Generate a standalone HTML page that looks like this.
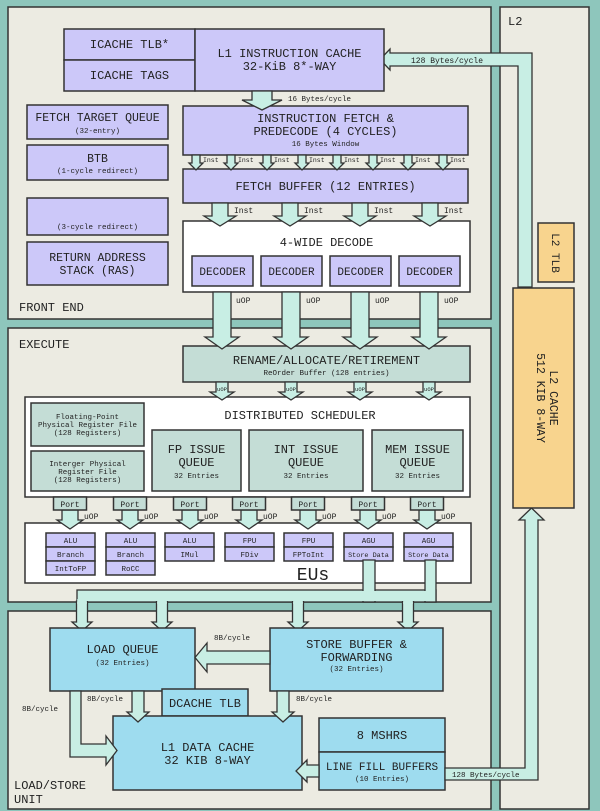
<!DOCTYPE html>
<html><head><meta charset="utf-8"><style>
html,body{margin:0;padding:0;background:#8ec6bc;}
svg{display:block;}
text{font-family:"Liberation Mono",monospace;fill:#222;}
.b{stroke:#333;stroke-width:1.5;}
.lav{fill:#ccc8f9;}
.tg{fill:#c4ddd6;}
.bl{fill:#9edcef;}
.or{fill:#f8d48e;}
.pn{fill:#ecebe2;}
.wh{fill:#fff;}
.ar{fill:#c8eee4;stroke:#333;stroke-width:1.3;}
.cv{fill:#c8eee4;}
</style></head><body>
<svg id="s" width="600" height="811" viewBox="0 0 600 811" xmlns="http://www.w3.org/2000/svg">
<rect x="0" y="0" width="600" height="811" fill="#8ec6bc"/>
<!-- panels -->
<rect class="pn b" x="8" y="7" width="483" height="312"/>
<rect class="pn b" x="8" y="328" width="483" height="274"/>
<rect class="pn b" x="8" y="611" width="483" height="198"/>
<rect class="pn b" x="500" y="7" width="89" height="802"/>
<text x="508" y="25" font-size="12">L2</text>
<text x="19" y="311" font-size="12">FRONT END</text>
<text x="19" y="348" font-size="12">EXECUTE</text>
<text x="14" y="789" font-size="12">LOAD/STORE</text>
<text x="14" y="803" font-size="12">UNIT</text>

<!-- L2 -> IC arrow -->
<g id="l2ic">
<polygon class="ar" points="532,287 518,287 518,66 390,66 390,70 380,59.5 390,49 390,53 532,53"/>
</g>
<text x="411" y="63" font-size="8">128 Bytes/cycle</text>

<!-- front end boxes -->
<rect class="lav b" x="64" y="29" width="131" height="31"/>
<rect class="lav b" x="64" y="60" width="131" height="31"/>
<rect class="lav b" x="195" y="29" width="189" height="62"/>
<text x="129.5" y="48" font-size="12" text-anchor="middle">ICACHE TLB*</text>
<text x="129.5" y="79" font-size="12" text-anchor="middle">ICACHE TAGS</text>
<text x="289.5" y="57" font-size="12" text-anchor="middle">L1 INSTRUCTION CACHE</text>
<text x="289.5" y="70" font-size="12" text-anchor="middle">32-KiB 8*-WAY</text>

<rect class="lav b" x="27" y="105" width="141" height="34"/>
<text x="97.5" y="121" font-size="11.5" text-anchor="middle">FETCH TARGET QUEUE</text>
<text x="97.5" y="133" font-size="7.5" text-anchor="middle">(32-entry)</text>
<rect class="lav b" x="27" y="145" width="141" height="35"/>
<text x="97.5" y="162" font-size="11.5" text-anchor="middle">BTB</text>
<text x="97.5" y="173" font-size="7.5" text-anchor="middle">(1-cycle redirect)</text>
<rect class="lav b" x="27" y="198" width="141" height="37"/>
<text x="97.5" y="229" font-size="7.5" text-anchor="middle">(3-cycle redirect)</text>
<rect class="lav b" x="27" y="242" width="141" height="43"/>
<text x="97.5" y="261" font-size="11.5" text-anchor="middle">RETURN ADDRESS</text>
<text x="97.5" y="274" font-size="11.5" text-anchor="middle">STACK (RAS)</text>

<rect class="lav b" x="183" y="106" width="285" height="49"/>
<text x="325.5" y="122" font-size="12" text-anchor="middle">INSTRUCTION FETCH &amp;</text>
<text x="325.5" y="135" font-size="12" text-anchor="middle">PREDECODE (4 CYCLES)</text>
<text x="325.5" y="146" font-size="7.5" text-anchor="middle">16 Bytes Window</text>
<text x="288" y="101" font-size="7.5">16 Bytes/cycle</text>

<rect class="lav b" x="183" y="169" width="285" height="34"/>
<text x="325.5" y="190" font-size="12" text-anchor="middle">FETCH BUFFER (12 ENTRIES)</text>

<rect class="wh b" x="183" y="221" width="287" height="71"/>
<text x="326.5" y="246" font-size="12" text-anchor="middle">4-WIDE DECODE</text>
<rect class="lav b" x="192" y="256" width="61" height="30"/>
<rect class="lav b" x="261" y="256" width="61" height="30"/>
<rect class="lav b" x="330" y="256" width="61" height="30"/>
<rect class="lav b" x="399" y="256" width="61" height="30"/>
<text x="222.5" y="275" font-size="11" text-anchor="middle">DECODER</text>
<text x="291.5" y="275" font-size="11" text-anchor="middle">DECODER</text>
<text x="360.5" y="275" font-size="11" text-anchor="middle">DECODER</text>
<text x="429.5" y="275" font-size="11" text-anchor="middle">DECODER</text>

<!-- execute -->
<rect class="tg b" x="183" y="346" width="287" height="36"/>
<text x="326.5" y="364" font-size="12" text-anchor="middle">RENAME/ALLOCATE/RETIREMENT</text>
<text x="326.5" y="375" font-size="7.5" text-anchor="middle">ReOrder Buffer (128 entries)</text>

<rect class="wh b" x="25" y="397" width="445" height="100"/>
<text x="300" y="419" font-size="12" text-anchor="middle">DISTRIBUTED SCHEDULER</text>
<rect class="tg b" x="31" y="403" width="113" height="43"/>
<text x="87.5" y="419" font-size="7.5" text-anchor="middle">Floating-Point</text>
<text x="87.5" y="427" font-size="7.5" text-anchor="middle">Physical Register File</text>
<text x="87.5" y="435" font-size="7.5" text-anchor="middle">(128 Registers)</text>
<rect class="tg b" x="31" y="451" width="113" height="40"/>
<text x="87.5" y="466" font-size="7.5" text-anchor="middle">Interger Physical</text>
<text x="87.5" y="474" font-size="7.5" text-anchor="middle">Register File</text>
<text x="87.5" y="482" font-size="7.5" text-anchor="middle">(128 Registers)</text>
<rect class="tg b" x="152" y="430" width="89" height="61"/>
<rect class="tg b" x="249" y="430" width="114" height="61"/>
<rect class="tg b" x="372" y="430" width="91" height="61"/>
<text x="196.5" y="453" font-size="12" text-anchor="middle">FP ISSUE</text>
<text x="196.5" y="466" font-size="12" text-anchor="middle">QUEUE</text>
<text x="196.5" y="478" font-size="7.5" text-anchor="middle">32 Entries</text>
<text x="306" y="453" font-size="12" text-anchor="middle">INT ISSUE</text>
<text x="306" y="466" font-size="12" text-anchor="middle">QUEUE</text>
<text x="306" y="478" font-size="7.5" text-anchor="middle">32 Entries</text>
<text x="417.5" y="453" font-size="12" text-anchor="middle">MEM ISSUE</text>
<text x="417.5" y="466" font-size="12" text-anchor="middle">QUEUE</text>
<text x="417.5" y="478" font-size="7.5" text-anchor="middle">32 Entries</text>

<rect class="wh b" x="25" y="523" width="446" height="60"/>
<text x="313" y="580" font-size="18" text-anchor="middle" font-family="Liberation Sans">EUs</text>

<g id="eus"></g>

<!-- LSU arrow tree -->
<g id="tree"></g>

<!-- LSU -->
<rect class="bl b" x="50" y="628" width="145" height="63"/>
<text x="122.5" y="653" font-size="12" text-anchor="middle">LOAD QUEUE</text>
<text x="122.5" y="665" font-size="7.5" text-anchor="middle">(32 Entries)</text>
<rect class="bl b" x="270" y="628" width="173" height="63"/>
<text x="356.5" y="648" font-size="12" text-anchor="middle">STORE BUFFER &amp;</text>
<text x="356.5" y="661" font-size="12" text-anchor="middle">FORWARDING</text>
<text x="356.5" y="671" font-size="7.5" text-anchor="middle">(32 Entries)</text>
<polygon class="ar" points="270,651 207,651 207,643 195,657.5 207,672 207,664 270,664"/>
<text x="214" y="640" font-size="7.5">8B/cycle</text>

<rect class="bl b" x="162" y="689" width="86" height="27"/>
<text x="205" y="707" font-size="12" text-anchor="middle">DCACHE TLB</text>
<rect class="bl b" x="113" y="716" width="189" height="74"/>
<text x="207.5" y="751" font-size="12" text-anchor="middle">L1 DATA CACHE</text>
<text x="207.5" y="764" font-size="12" text-anchor="middle">32 KIB 8-WAY</text>
<rect class="bl b" x="319" y="718" width="126" height="34"/>
<text x="382" y="739" font-size="12" text-anchor="middle">8 MSHRS</text>
<rect class="bl b" x="319" y="752" width="126" height="38"/>
<text x="382" y="770" font-size="11" text-anchor="middle">LINE FILL BUFFERS</text>
<text x="382" y="781" font-size="7.5" text-anchor="middle">(10 Entries)</text>

<polygon class="ar" points="319,765 307,765 307,760 296,771 307,782 307,777 319,777"/>
<polygon class="ar" points="70,691 81,691 81,744 106,744 106,736 117,750.5 106,765 106,757 70,757"/>
<text x="87" y="701" font-size="7.5">8B/cycle</text>
<text x="296" y="701" font-size="7.5">8B/cycle</text>
<text x="22" y="711" font-size="7.5">8B/cycle</text>

<!-- LFB -> L2 -->
<polygon class="ar" points="445,768 525,768 525,520 519,520 531.5,508 544,520 538,520 538,780 445,780"/>
<text x="452" y="777" font-size="7.5">128 Bytes/cycle</text>

<!-- L2 boxes -->
<rect class="or b" x="538" y="223" width="36" height="59"/>
<text transform="translate(552,253) rotate(90)" font-size="11" text-anchor="middle">L2 TLB</text>
<rect class="or b" x="513" y="288" width="61" height="220"/>
<text transform="translate(550,398) rotate(90)" font-size="11.5" text-anchor="middle">L2 CACHE</text>
<text transform="translate(537,398) rotate(90)" font-size="11.5" text-anchor="middle">512 KIB 8-WAY</text>

<g id="arrows"></g>
<g id="labels"></g>
</svg>
<script>
var NS="http://www.w3.org/2000/svg";
function el(p,tag,a,txt){var e=document.createElementNS(NS,tag);for(var k in a)e.setAttribute(k,a[k]);if(txt)e.textContent=txt;document.getElementById(p).appendChild(e);return e;}
function da(p,cx,y0,yt,s,h,hh){var yb=yt-hh;el(p,"polygon",{"class":"ar",points:[cx-s,y0,cx+s,y0,cx+s,yb,cx+h,yb,cx,yt,cx-h,yb,cx-s,yb].join(" ")});}
var A="arrows";
da(A,262,91,110,10,20,10);
[196,231,267,302,337,373,408,443].forEach(function(c){da(A,c,155,170,4,7,7);});
[220,290,360,430].forEach(function(c){da(A,c,203,226,8,16,10);});
[222,291,360,429].forEach(function(c){da(A,c,292,349,9,17,12);});
[222,291,360,429].forEach(function(c){da(A,c,382,400,6,12,8);});
[70,130,190,249,308,368,427].forEach(function(c){da(A,c,510,529,8,13,9);
 el(A,"rect",{"class":"tg b",x:c-16.5,y:497,width:33,height:13});});
da(A,138,691,722,6,11,10);
da(A,283,691,722,6,11,10);
</script>
<script>
// labels (kept as JS-free text? we add after arrows for z-order)
</script>
<script>
var L=document.getElementById("labels");
function tx(x,y,fs,t,anc){var e=document.createElementNS(NS,"text");e.setAttribute("x",x);e.setAttribute("y",y);e.setAttribute("font-size",fs);if(anc)e.setAttribute("text-anchor",anc);e.textContent=t;L.appendChild(e);}
</script>
<svg width="0" height="0"></svg>
<script>
// EU boxes
var E="eus";
var eus=[[46,["ALU","Branch","IntToFP"]],[106,["ALU","Branch","RoCC"]],[165,["ALU","IMul"]],[225,["FPU","FDiv"]],[284,["FPU","FPToInt"]],[344,["AGU","Store Data"]],[404,["AGU","Store Data"]]];
// tree first
var T="tree";
el(T,"rect",{"class":"ar",x:77,y:590,width:359,height:12});
el(T,"rect",{"class":"ar",x:363,y:560,width:12,height:42});
el(T,"rect",{"class":"ar",x:425,y:560,width:11,height:42});
[82,162,298,408].forEach(function(c){da(T,c,601,631,5.5,10,9);});
el(T,"rect",{"class":"cv",x:78,y:591,width:357,height:10});
el(T,"rect",{"class":"cv",x:364,y:561,width:10,height:40});
el(T,"rect",{"class":"cv",x:426,y:561,width:9,height:40});
[82,162,298,408].forEach(function(c){el(T,"rect",{"class":"cv",x:c-4.8,y:599,width:9.6,height:5});});
</script>
<svg style="position:absolute;left:0;top:0" width="600" height="811" viewBox="0 0 600 811" xmlns="http://www.w3.org/2000/svg">
<style>text{font-family:"Liberation Mono",monospace;fill:#222;}</style>
<g id="eu2" font-size="7.5" text-anchor="middle"></g>
<g font-size="6.5">
<text x="203" y="162">Inst</text><text x="238" y="162">Inst</text><text x="274" y="162">Inst</text><text x="309" y="162">Inst</text>
<text x="344" y="162">Inst</text><text x="380" y="162">Inst</text><text x="415" y="162">Inst</text><text x="450" y="162">Inst</text>
</g>
<g font-size="8">
<text x="234" y="213">Inst</text><text x="304" y="213">Inst</text><text x="374" y="213">Inst</text><text x="444" y="213">Inst</text>
<text x="236" y="303">uOP</text><text x="306" y="303">uOP</text><text x="375" y="303">uOP</text><text x="444" y="303">uOP</text>
</g>
<g font-size="5.5" text-anchor="middle">
<text x="222" y="391">uOP</text><text x="291" y="391">uOP</text><text x="360" y="391">uOP</text><text x="429" y="391">uOP</text>
</g>
<g font-size="8" text-anchor="middle">
<text x="70" y="507">Port</text><text x="130" y="507">Port</text><text x="190" y="507">Port</text><text x="249" y="507">Port</text>
<text x="308" y="507">Port</text><text x="368" y="507">Port</text><text x="427" y="507">Port</text>
</g>
<g font-size="8">
<text x="84" y="519">uOP</text><text x="144" y="519">uOP</text><text x="204" y="519">uOP</text><text x="263" y="519">uOP</text>
<text x="322" y="519">uOP</text><text x="382" y="519">uOP</text><text x="441" y="519">uOP</text>
</g>
</svg>
<script>
// Draw EU boxes into main svg, text into overlay
eus.forEach(function(e){var x=e[0];e[1].forEach(function(t,i){
 el("eus","rect",{"class":"lav b",x:x,y:533+i*14,width:49,height:14});
 var tt=document.createElementNS(NS,"text");tt.setAttribute("x",x+24.5);tt.setAttribute("y",543+i*14);tt.textContent=t;
 if(t=="Store Data")tt.setAttribute("font-size","6.8");
 document.getElementById("eu2").appendChild(tt);});});
</script>
</body></html>
